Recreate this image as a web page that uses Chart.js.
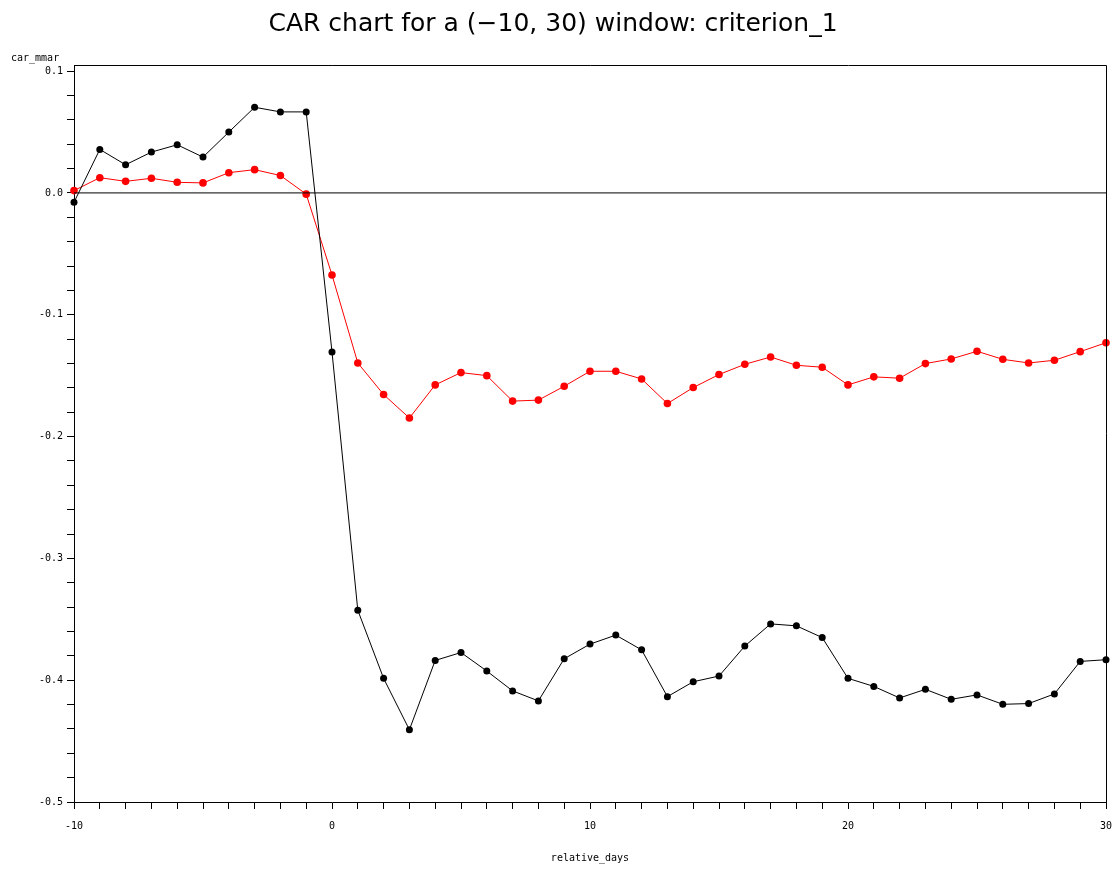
<!DOCTYPE html>
<html>
<head>
<meta charset="utf-8">
<script src="https://cdn.jsdelivr.net/npm/chart.js@4/dist/chart.umd.min.js"></script>
<style>
  html, body { margin: 0; padding: 0; background: #fff; }
  #wrap { width: 1113px; height: 877px; }
</style>
</head>
<body>
<div id="wrap"><canvas id="c" width="1113" height="877"></canvas></div>
<script>
const titleText = "CAR chart for a (\u221210, 30) window: criterion_1";
const yLabel = "car_mmar";
const xLabel = "relative_days";

const days = [-10,-9,-8,-7,-6,-5,-4,-3,-2,-1,0,1,2,3,4,5,6,7,8,9,10,11,12,13,14,15,16,17,18,19,20,21,22,23,24,25,26,27,28,29,30];

const carBlack = [-0.0077,0.0357,0.0231,0.0335,0.0395,0.0294,0.0499,0.0703,0.0665,0.0665,
  -0.1306,-0.3426,-0.3985,-0.4407,-0.3838,-0.3773,-0.3925,-0.4088,-0.4170,-0.3824,
  -0.3704,-0.3630,-0.3751,-0.4135,-0.4013,-0.3966,-0.3720,-0.3538,-0.3554,-0.3650,
  -0.3985,-0.4051,-0.4146,-0.4075,-0.4157,-0.4121,-0.4198,-0.4192,-0.4113,-0.3846,-0.3832];

const carRed = [0.0019,0.0125,0.0095,0.0120,0.0087,0.0082,0.0166,0.0191,0.0143,-0.0010,
  -0.0674,-0.1396,-0.1655,-0.1848,-0.1576,-0.1475,-0.1500,-0.1709,-0.1701,-0.1587,
  -0.1464,-0.1464,-0.1527,-0.1729,-0.1598,-0.1491,-0.1407,-0.1347,-0.1415,-0.1431,
  -0.1576,-0.1510,-0.1521,-0.1401,-0.1363,-0.1300,-0.1366,-0.1396,-0.1374,-0.1303,-0.1230];

const refLine = [0, 0];
const refDays = [-10, 30];

const yMin = -0.5, yMax = 0.105, yStep = 0.02;
const xMin = -10, xMax = 30, xStep = 1;

const tickFont = { family: "'DejaVu Sans Mono', monospace", size: 10 };

const framePlugin = {
  id: 'frame',
  afterDatasetsDraw(chart) {
    const { ctx, chartArea: a } = chart;
    ctx.save();
    ctx.strokeStyle = '#000';
    ctx.lineWidth = 1;
    ctx.beginPath();
    ctx.moveTo(a.left, Math.round(a.top) + 0.5);
    ctx.lineTo(a.right + 0.5, Math.round(a.top) + 0.5);
    ctx.lineTo(a.right + 0.5, a.bottom);
    ctx.stroke();
    ctx.fillStyle = '#000';
    ctx.font = "10px 'DejaVu Sans Mono', monospace";
    ctx.textAlign = 'left';
    ctx.textBaseline = 'bottom';
    ctx.fillText(yLabel, 11, a.top - 2);
    ctx.restore();
  }
};

new Chart(document.getElementById('c'), {
  type: 'line',
  data: {
    datasets: [
      {
        label: 'reference',
        data: refDays.map((d, i) => ({ x: d, y: refLine[i] })),
        borderColor: '#000', borderWidth: 1, pointRadius: 0, fill: false
      },
      {
        label: 'car black',
        data: days.map((d, i) => ({ x: d, y: carBlack[i] })),
        borderColor: '#000', backgroundColor: '#000', borderWidth: 1,
        pointRadius: 3.5, pointBorderWidth: 0, tension: 0, fill: false
      },
      {
        label: 'car red',
        data: days.map((d, i) => ({ x: d, y: carRed[i] })),
        borderColor: '#ff0000', backgroundColor: '#ff0000', borderWidth: 1,
        pointRadius: 3.8, pointBorderWidth: 0, tension: 0, fill: false
      }
    ]
  },
  options: {
    responsive: false,
    animation: false,
    events: [],
    clip: false,
    layout: { padding: { left: 0, right: 7, top: 0, bottom: 0 } },
    plugins: {
      legend: { display: false },
      tooltip: { enabled: false },
      title: {
        display: true,
        text: titleText,
        color: '#000',
        font: { family: "'DejaVu Sans', sans-serif", size: 25, weight: 'normal' },
        padding: { top: 9, bottom: 26 }
      }
    },
    scales: {
      x: {
        type: 'linear',
        min: xMin, max: xMax,
        afterFit(s) { s.height = 75; s.paddingLeft = 0; s.paddingRight = 0; },
        ticks: {
          stepSize: xStep, autoSkip: false, maxRotation: 0, color: '#000', font: tickFont, padding: 11,
          callback: v => (Math.abs(v % 10) < 1e-9 ? String(v) : '')
        },
        grid: { drawOnChartArea: false, tickLength: 7, tickColor: '#000' },
        border: { color: '#000', width: 1 },
        title: { display: true, text: xLabel, color: '#000', font: tickFont, padding: { top: 4, bottom: 13 } }
      },
      y: {
        type: 'linear',
        min: yMin, max: yMax,
        afterFit(s) { s.width = 74; },
        ticks: {
          stepSize: yStep, autoSkip: false, includeBounds: false, color: '#000', font: tickFont, padding: 4,
          callback: v => (Math.abs(v * 10 - Math.round(v * 10)) < 1e-6 ? (Math.round(v * 10) / 10).toFixed(1) : '')
        },
        grid: { drawOnChartArea: false, tickLength: 7, tickColor: '#000' },
        border: { color: '#000', width: 1 }
      }
    }
  },
  plugins: [framePlugin]
});
</script>
</body>
</html>
